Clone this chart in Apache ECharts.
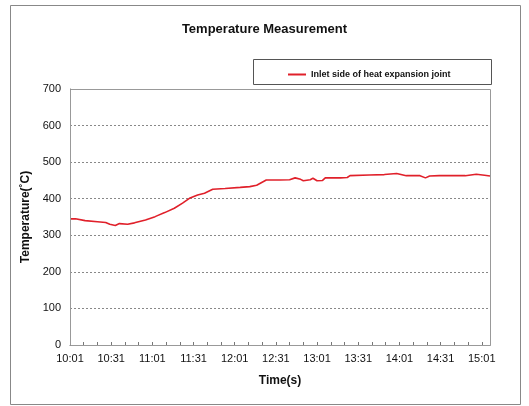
<!DOCTYPE html>
<html><head><meta charset="utf-8">
<script src="https://cdn.jsdelivr.net/npm/echarts@6/dist/echarts.min.js"></script>
<style>html,body{margin:0;padding:0;background:#fff}#c{width:529px;height:406px}</style>
</head><body><div id="c"></div>
<script>
// minutes elapsed since 10:01
var minutes = [0,4,11,20,26,29,33,36,42,47,55,62,69,76,82,87,93,98,104,113,124,131,136,140,143,153,160,164,168,170,175,177,180,184,186,197,202,204,218,229,238,245,255,259,262,269,277,288,296,302,306];
var temps   = [345,345,340,337,335,330,327,332,330,334,342,351,362,374,388,401,410,415,426,428,431,433,437,445,451,451,452,457,453,449,452,456,449,450,457,457,458,463,465,466,469,463,463,457,462,463,463,463,467,464,462];
var yTicks = [0,100,200,300,400,500,600,700];
var xLabels = ['10:01','10:31','11:01','11:31','12:01','12:31','13:01','13:31','14:01','14:31','15:01'];
var seriesName = 'Inlet side of heat expansion joint';

var pts = minutes.map(function(m,i){return [m,temps[i]];});
var chart = echarts.init(document.getElementById('c'));
var F = 'Liberation Sans, Arial, sans-serif';
chart.setOption({
  animation:false,
  backgroundColor:'#fff',
  title:{text:'Temperature Measurement',left:'center',top:18,
    textStyle:{fontFamily:F,fontSize:13,fontWeight:'bold',color:'#111'}},
  graphic:[
    {type:'rect',shape:{x:10.5,y:5.5,width:510,height:399},style:{fill:'none',stroke:'#888',lineWidth:1},silent:true},
    {type:'rect',shape:{x:253.5,y:59.5,width:238,height:25},style:{fill:'#fff',stroke:'#555',lineWidth:1},silent:true,z:-1},
    {type:'rect',shape:{x:70.5,y:89.5,width:420,height:256},style:{fill:'none',stroke:'#999',lineWidth:1},silent:true,z:5}
  ],
  legend:{data:[seriesName],left:283,top:65,itemWidth:18,itemHeight:2,itemGap:4,icon:'rect',
    textStyle:{fontFamily:F,fontSize:9,fontWeight:'bold',color:'#111'}},
  grid:{left:70,top:89,right:39,bottom:61,show:false},
  xAxis:{type:'value',min:0,max:306,interval:10,
    name:'Time(s)',nameLocation:'middle',nameGap:30,
    nameTextStyle:{fontFamily:F,fontSize:12,fontWeight:'bold',color:'#111'},
    axisLine:{show:true,lineStyle:{color:'#777'}},
    axisTick:{show:true,inside:true,length:3,lineStyle:{color:'#777'}},
    splitLine:{show:false},
    axisLabel:{fontFamily:F,fontSize:11,color:'#111',margin:8,showMaxLabel:false,
      formatter:function(v){ if(v%30!==0) return ''; return xLabels[v/30]||''; }}
  },
  yAxis:{type:'value',min:0,max:700,interval:100,
    name:'Temperature(˚C)',nameLocation:'middle',nameGap:38,
    nameTextStyle:{fontFamily:F,fontSize:12,fontWeight:'bold',color:'#111'},
    axisLine:{show:true,lineStyle:{color:'#777'}},
    axisTick:{show:false},
    splitLine:{show:true,lineStyle:{color:'#888',type:[2,2],width:1}},
    axisLabel:{fontFamily:F,fontSize:11,color:'#111',margin:9,
      formatter:function(v){return yTicks.indexOf(v)>=0?String(v):'';}}
  },
  series:[{name:seriesName,type:'line',data:pts,showSymbol:false,symbol:'none',
    lineStyle:{color:'#e0202a',width:1.6},itemStyle:{color:'#e0202a'}}]
});
</script></body></html>
